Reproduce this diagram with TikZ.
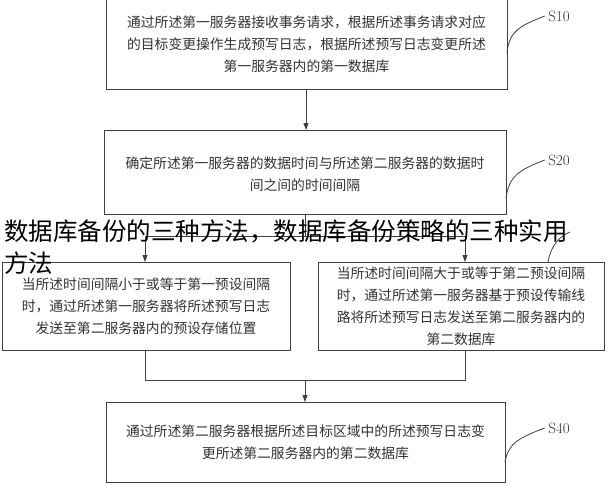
\documentclass[tikz,border=0pt]{standalone}
\usepackage{fontspec}
\newfontfamily\cjk{Noto Sans CJK SC}
\usetikzlibrary{arrows.meta}
\begin{document}
\begin{tikzpicture}[x=1pt,y=-1pt,
 box/.style={draw=black!75,line width=0.9pt,inner sep=0pt},
 txt/.style={font=\cjk\fontsize{13.8}{22}\selectfont,align=center,text=black!80},
 arr/.style={draw=black!75,line width=0.8pt,-{Triangle[length=7pt,width=5pt]}},
 ln/.style={draw=black!75,line width=0.8pt},
 lab/.style={font=\fontsize{15}{15}\selectfont,text=black!80}]
\useasboundingbox[fill=white] (0,0) rectangle (608,490);
\draw[box] (106,-2) rectangle (507,89); \node[txt] (t1) at (306.5,44) {通过所述第一服务器接收事务请求，根据所述事务请求对应\\的目标变更操作生成预写日志，根据所述预写日志变更所述\\第一服务器内的第一数据库};
\coordinate (b1b) at (306,89); \coordinate (b2t) at (306,130);
\draw[box] (104,130) rectangle (506,214); \node[txt] (t2) at (305,174) {确定所述第一服务器的数据时间与所述第二服务器的数据时\\间之间的时间间隔};
\draw[box] (2,262) rectangle (290,350); \node[txt] (t3) at (146,306) {当所述时间间隔小于或等于第一预设间隔\\时，通过所述第一服务器将所述预写日志\\发送至第二服务器内的预设存储位置};
\draw[box] (318,262) rectangle (604,350); \node[txt] (t4) at (461,306) {当所述时间间隔大于或等于第二预设间隔\\时，通过所述第一服务器基于预设传输线\\路将所述预写日志发送至第二服务器内的\\第二数据库};
\draw[box] (106,402) rectangle (505,482); \node[txt] (t5) at (305.5,442) {通过所述第二服务器根据所述目标区域中的所述预写日志变\\更所述第二服务器内的第二数据库};
\draw[arr] (b1b) -- (b2t);
\coordinate (b2b) at (305,214); \coordinate (sp) at (305,236);
\coordinate (sl) at (145,236); \coordinate (sr) at (465,236);
\coordinate (l3) at (145,262); \coordinate (r4) at (465,262);
\draw[ln] (b2b) -- (sp); \draw[ln] (sl) -- (sr);
\draw[arr] (sl) -- (l3); \draw[arr] (sr) -- (r4);
\coordinate (l3b) at (145,350); \coordinate (r4b) at (465,350);
\coordinate (jl) at (145,380); \coordinate (jr) at (465,380); \coordinate (jm) at (305,380); \coordinate (b5t) at (305,402);
\draw[ln] (l3b) -- (jl) -- (jr) -- (r4b); \draw[arr] (jm) -- (b5t);
\node[lab] (s10) at (559,16) {S10}; \draw[ln] (507,52) .. controls (510,30) and (520,26) .. (s10.west);
\node[lab] (s20) at (559,160) {S20}; \draw[ln] (506,198) .. controls (509,176) and (519,170) .. (s20.west);
\draw[ln] (548,262) .. controls (551,245) and (560,236) .. (570,232);
\node[lab] (s40) at (559,428) {S40}; \draw[ln] (505,462) .. controls (508,444) and (518,438) .. (s40.west);
\node[font=\cjk\fontsize{24.5}{32}\selectfont,align=left,anchor=north west,inner sep=0pt] (wm) at (4,220) {数据库备份的三种方法，数据库备份策略的三种实用\\方法};
\end{tikzpicture}
\end{document}
